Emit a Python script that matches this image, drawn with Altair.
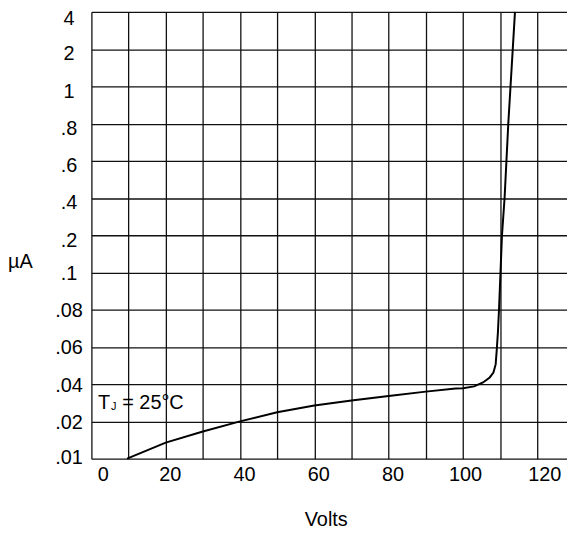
import altair as alt
import pandas as pd

# Reverse leakage curve
VOLTS = [9.6, 20, 30, 40, 50, 60, 70, 80, 90, 98, 100, 103, 105.4, 107.2,
         108.2, 108.8, 109.1, 109.4, 109.7, 110.1, 110.5, 111.2, 111.7,
         112.2, 112.8, 113.4, 114.0]
CURRENT = [0.01, 0.0143, 0.0173, 0.020, 0.0249, 0.0285, 0.0312, 0.0336,
           0.036, 0.0377, 0.0378, 0.0388, 0.0409, 0.0436, 0.0462, 0.0506,
           0.0586, 0.0676, 0.08, 0.1, 0.2, 0.4, 0.6, 0.8, 1, 2, 4]

Y_TICKS = [0.01, 0.02, 0.04, 0.06, 0.08, 0.1, 0.2, 0.4, 0.6, 0.8, 1, 2, 4]
Y_LABELS = [".01", ".02", ".04", ".06", ".08", ".1", ".2", ".4", ".6", ".8",
            "1", "2", "4"]
X_GRID = [0, 10, 20, 30, 40, 50, 60, 70, 80, 90, 100, 110, 120]
X_DOMAIN = [0, 128]

ANNOT_T = "T"
ANNOT_SUB = "J"
ANNOT_REST = "= 25°C"

W, H = 479, 450
FONT = "Liberation Sans"
FS = 20

df = pd.DataFrame({"V": VOLTS, "I": CURRENT})

n = len(Y_TICKS) - 1
y_range = [H - H * k / n for k in range(n + 1)]
y_scale = alt.Scale(domain=Y_TICKS, range=y_range, nice=False, zero=False)
x_scale = alt.Scale(domain=X_DOMAIN, nice=False, zero=False)

y_label_expr = " : ".join(
    f"datum.value == {v} ? '{l}'" for v, l in zip(Y_TICKS, Y_LABELS)
) + " : ''"

x_axis = alt.Axis(
    values=X_GRID, tickCount=40,
    labelExpr="datum.value % 20 == 0 ? datum.label : ''",
    title="Volts",
    titleX=236, titleY=67, titleBaseline="alphabetic", titleAlign="center",
    labelOffset={"condition": [
        {"test": "datum.value == 0", "value": 6},
        {"test": "datum.value == 100", "value": 2},
        {"test": "datum.value == 120", "value": 7}], "value": 4},
    labelPadding=6, ticks=False, tickSize=0, domain=False,
    labelAngle=0, labelOverlap=False,
)
y_axis = alt.Axis(
    values=Y_TICKS, tickCount=40,
    labelExpr=y_label_expr,
    title="µA", titleAngle=0, titleX=-72, titleY=257,
    titleAlign="center", titleBaseline="alphabetic",
    labelAlign="center", labelBaseline="middle", labelPadding=23,
    labelOffset={"condition": [
        {"test": "datum.value >= 3", "value": 7},
        {"test": "datum.value >= 0.15", "value": 5},
        {"test": "datum.value < 0.015", "value": -1}], "value": 1},
    ticks=False, tickSize=0, domain=False, labelOverlap=False,
)

line = alt.Chart(df).mark_line(color="black", strokeWidth=2).encode(
    x=alt.X("V:Q", scale=x_scale, axis=x_axis),
    y=alt.Y("I:Q", scale=y_scale, axis=y_axis),
)


def annot(text, v, i, size, dy=0):
    d = pd.DataFrame({"V": [v], "I": [i], "t": [text]})
    return alt.Chart(d).mark_text(
        align="left", baseline="middle", fontSize=size, font=FONT,
        color="black", dy=dy,
    ).encode(
        x=alt.X("V:Q", scale=x_scale),
        y=alt.Y("I:Q", scale=y_scale),
        text="t:N",
    )


chart = alt.layer(
    line,
    annot(ANNOT_T, 1.76, 0.03, FS),
    annot(ANNOT_SUB, 5.3, 0.03, 11, dy=4),
    annot(ANNOT_REST, 8.3, 0.03, FS),
).properties(
    width=W, height=H,
    padding={"left": 84, "top": 2, "right": 0, "bottom": 70},
    autosize=alt.AutoSizeParams(type="none"),
).configure_view(
    strokeWidth=0
).configure_axis(
    labelFont=FONT, titleFont=FONT, labelFontSize=FS, titleFontSize=FS,
    labelColor="black", titleColor="black", titleFontWeight="normal",
    gridColor="#111111", gridWidth=1.3, gridOpacity=1,
)

chart.save("out.html", embed_options={"renderer": "svg", "actions": False})
